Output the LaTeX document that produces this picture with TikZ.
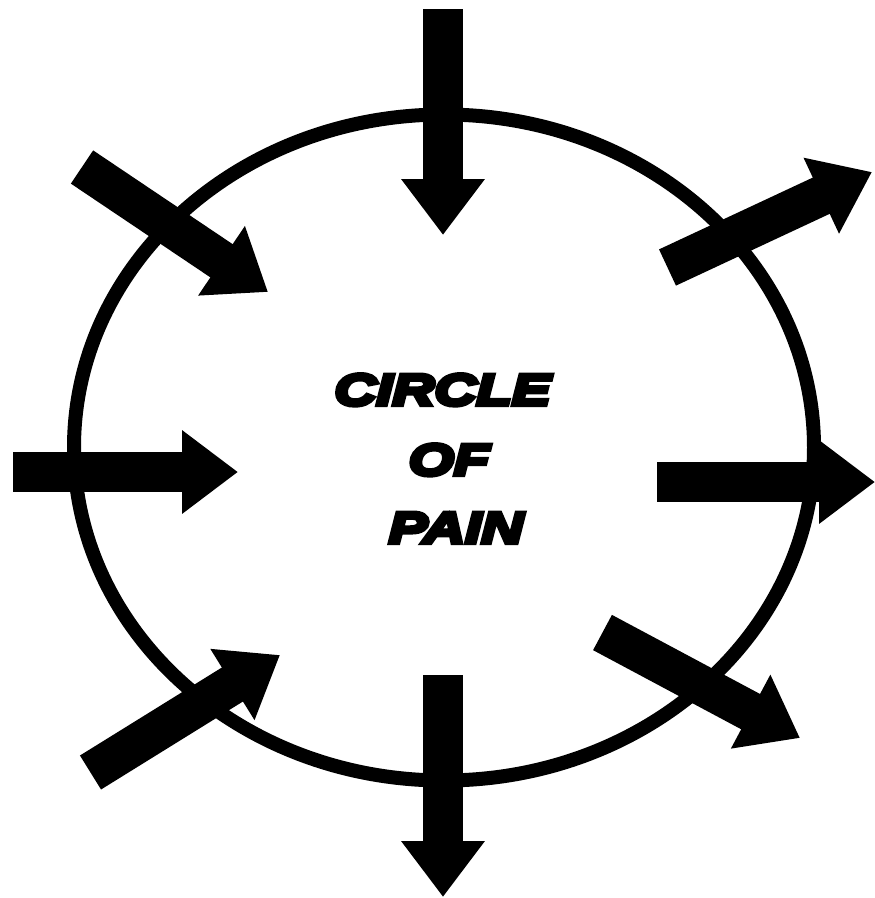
\documentclass[tikz,border=0pt]{standalone}
\usetikzlibrary{arrows.meta,shapes.geometric}
\usepackage{fontspec}
\font\painfont="Liberation Sans/BI:embolden=10;extend=1.32" at 44pt
\tikzset{
  ring/.style={draw=black, line width=14pt},
  blockarrow/.style={draw=black, line width=40pt, -{Triangle[length=56pt,width=80pt]}},
  paintext/.style={anchor=base, inner sep=0pt, font=\painfont, text=black}
}
\begin{document}
\begin{tikzpicture}[x=1pt,y=-1pt]
\useasboundingbox (0,0) rectangle (875,898);
\fill[white] (0,0) rectangle (875,898);
\node[ring, ellipse, minimum width=740pt, minimum height=666pt, inner sep=0pt] (circ) at (444,447.5) {};
% arrow end points
\coordinate (tA) at (443,9);      \coordinate (hA) at (443,235);
\coordinate (tB) at (82,167);     \coordinate (hB) at (268,292);
\coordinate (tC) at (667.5,267.5);\coordinate (hC) at (872,172);
\coordinate (tD) at (13,472);     \coordinate (hD) at (238,472);
\coordinate (tE) at (657,482);    \coordinate (hE) at (875,482);
\coordinate (tF) at (90.5,772.5); \coordinate (hF) at (280,655);
\coordinate (tG) at (602.5,632.5);\coordinate (hG) at (800,738);
\coordinate (tH) at (443,675);    \coordinate (hH) at (443,897);
\foreach \k in {A,B,C,D,E,F,G,H}{\draw[blockarrow] (t\k) -- (h\k);}
\node[paintext] (l1) at (442.5,405) {CIRCLE};
\node[paintext] (l2) at (449,475) {OF};
\node[paintext] (l3) at (456,543) {PAIN};
\end{tikzpicture}
\end{document}
